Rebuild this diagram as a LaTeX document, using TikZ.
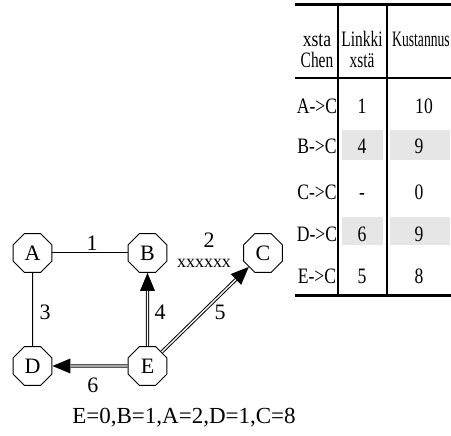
\documentclass[tikz,border=0pt]{standalone}
\usepackage{fontspec}
\setmainfont{Liberation Serif}
\newfontfamily\condfont[FakeStretch=0.8]{Liberation Serif}
\newfontfamily\narrowfont[FakeStretch=0.7]{Liberation Serif}
\newfontfamily\xnarrowfont[FakeStretch=0.62]{Liberation Serif}
\usetikzlibrary{shapes.geometric,arrows.meta}
\definecolor{cellgray}{RGB}{230,230,230}
\begin{document}
\begin{tikzpicture}[x=1pt,y=-1pt,
  oct/.style={regular polygon,regular polygon sides=8,draw,line width=0.9pt,
    minimum size=42pt,inner sep=0pt,font=\fontsize{22}{24}\selectfont},
  lbl/.style={inner sep=0pt,font=\fontsize{22}{24}\selectfont},
  tcell/.style={inner sep=0pt,anchor=base,font=\fontsize{22}{24}\selectfont\condfont},
  thead/.style={inner sep=0pt,anchor=base,font=\fontsize{22}{24}\selectfont\narrowfont},
  plainedge/.style={line width=1pt},
  dblout/.style={line width=3.4pt,-{Triangle[length=18pt,width=15pt,line width=0pt]}},
  dblin/.style={white,line width=1.4pt,shorten >=18pt},
  rule/.style={line width=#1}
]
\useasboundingbox (0,0) rectangle (451,436);

% ---------- table ----------
\fill[cellgray] (342,130) rectangle (383,160);
\fill[cellgray] (390,130) rectangle (450,160);
\fill[cellgray] (342,217) rectangle (383,245);
\fill[cellgray] (390,217) rectangle (450,245);

\draw[rule=3pt] (295,5) -- (451,5);
\draw[rule=2pt] (295,78) -- (451,78);
\draw[rule=3pt] (295,296) -- (451,296);
\draw[rule=2.4pt] (338,5) -- (338,296);
\draw[rule=1.4pt] (387,5) -- (387,296);

\node[thead] (h1a) at (317,47) {\condfont xsta};
\node[thead] (h1b) at (317,68) {Chen};
\node[thead] (h2a) at (362,47) {Linkki};
\node[thead] (h2b) at (362,68) {xstä};
\node[thead,anchor=base west,font=\fontsize{22}{24}\selectfont\xnarrowfont] (h3) at (392,47) {Kustannus};

\node[tcell] (r1a) at (317,114) {A->C};
\node[tcell] (r1b) at (362,114) {1};
\node[tcell] (r1c) at (424,114) {10};
\node[tcell] (r2a) at (317,154) {B->C};
\node[tcell] (r2b) at (362,154) {4};
\node[tcell] (r2c) at (419,154) {9};
\node[tcell] (r3a) at (317,200) {C->C};
\node[tcell] (r3b) at (362,200) {-};
\node[tcell] (r3c) at (419,200) {0};
\node[tcell] (r4a) at (317,242) {D->C};
\node[tcell] (r4b) at (362,242) {6};
\node[tcell] (r4c) at (419,242) {9};
\node[tcell] (r5a) at (317,284) {E->C};
\node[tcell] (r5b) at (362,284) {5};
\node[tcell] (r5c) at (419,284) {8};

% ---------- graph ----------
\node[oct] (A) at (32.5,253) {A};
\node[oct] (B) at (147.5,253) {B};
\node[oct] (C) at (263,253) {C};
\node[oct] (D) at (32.5,366) {D};
\node[oct] (E) at (147.5,366) {E};

\draw[plainedge] (A) -- (B);
\draw[plainedge] (A) -- (D);

\draw[dblout] (E) -- (B);
\draw[dblin] (E) -- (B);
\draw[dblout] (E) -- (C);
\draw[dblin] (E) -- (C);
\draw[dblout] (E) -- (D);
\draw[dblin] (E) -- (D);

\node[lbl] (l1) at (92,243) {1};
\node[lbl] (l2) at (209,240) {2};
\node[inner sep=0pt,font=\fontsize{18}{20}\selectfont] (lx) at (204,263) {xxxxxx};
\node[lbl] (l3) at (45,312) {3};
\node[lbl] (l4) at (160,312) {4};
\node[lbl] (l5) at (220,312) {5};
\node[lbl] (l6) at (93,385) {6};

\node[inner sep=0pt,font=\fontsize{23}{25}\selectfont] (res) at (184,418) {E=0,B=1,A=2,D=1,C=8};
\end{tikzpicture}
\end{document}
